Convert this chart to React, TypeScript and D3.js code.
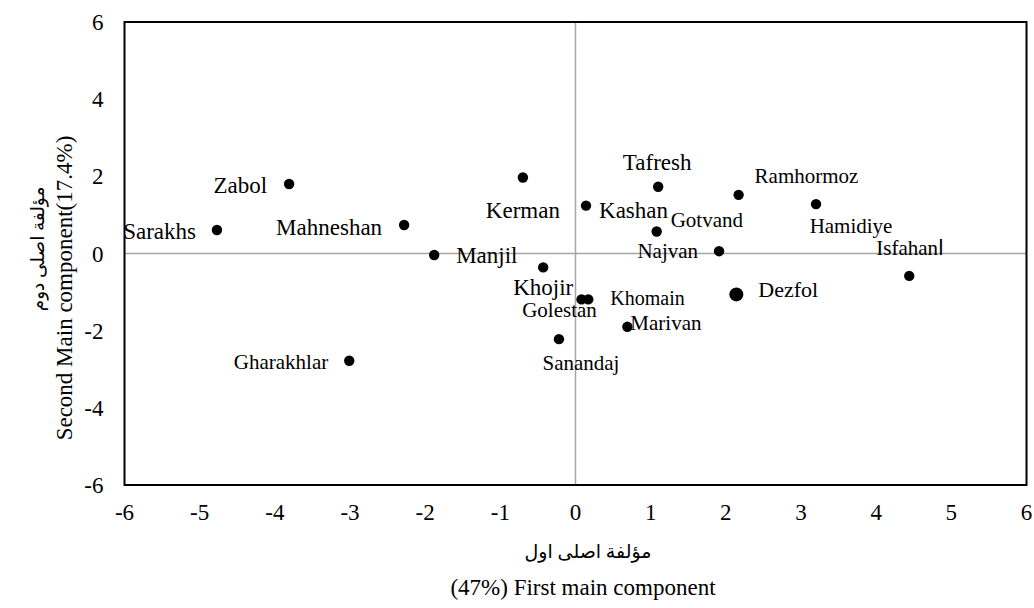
import React, { useEffect, useRef } from "react";
import * as d3 from "d3";

// PCA scores
const cities = [
  "Sarakhs", "Zabol", "Mahneshan", "Manjil", "Gharakhlar", "Kerman", "Khojir",
  "Kashan", "Golestan", "Khomain", "Sanandaj", "Marivan", "Tafresh", "Gotvand",
  "Najvan", "Ramhormoz", "Hamidiye", "Isfahanا", "Dezfol",
];
const pc1 = [-4.77, -3.81, -2.28, -1.88, -3.01, -0.7, -0.43, 0.14, 0.08, 0.17, -0.22, 0.69, 1.1, 1.08, 1.91, 2.17, 3.2, 4.44, 2.14];
const pc2 = [0.61, 1.8, 0.74, -0.04, -2.78, 1.97, -0.36, 1.24, -1.19, -1.19, -2.22, -1.9, 1.73, 0.57, 0.06, 1.52, 1.28, -0.58, -1.06];

const xTicks = [-6, -5, -4, -3, -2, -1, 0, 1, 2, 3, 4, 5, 6];
const yTicks = [-6, -4, -2, 0, 2, 4, 6];

// label placement: [dx, dy, anchor, font size]
const labelStyle: Record<string, [number, number, string, number]> = {
  Sarakhs: [-21, 9, "end", 23],
  Zabol: [-22, 9, "end", 23],
  Mahneshan: [-22, 10, "end", 23],
  Manjil: [22, 8, "start", 23],
  Gharakhlar: [-21, 8, "end", 21],
  Kerman: [0, 41, "middle", 23],
  Khojir: [0, 28, "middle", 23],
  Kashan: [13, 12, "start", 23],
  Golestan: [-22, 18, "middle", 21],
  Khomain: [22, 6, "start", 20],
  Sanandaj: [22, 31, "middle", 21],
  Marivan: [3, 3, "start", 21],
  Tafresh: [-1, -17, "middle", 23],
  Gotvand: [14, -5, "start", 21],
  Najvan: [-21, 7, "end", 21],
  Ramhormoz: [16, -12, "start", 21],
  "Isfahanا": [-33, -21, "start", 21],
  Hamidiye: [35, 29, "middle", 21],
  Dezfol: [22, 3, "start", 22],
};

const W = 1034, H = 608;
const margin = { top: 22, right: 7.5, bottom: 123, left: 124.5 };
const font = "'Liberation Serif', 'Times New Roman', 'DejaVu Sans', serif";

export default function App() {
  const ref = useRef<SVGSVGElement>(null);

  useEffect(() => {
    const svg = d3.select(ref.current);
    svg.selectAll("*").remove();

    const x = d3.scaleLinear().domain([-6, 6]).range([margin.left, W - margin.right]);
    const y = d3.scaleLinear().domain([-6, 6]).range([H - margin.bottom, margin.top]);

    // zero lines
    svg.append("line")
      .attr("x1", x(0)).attr("x2", x(0))
      .attr("y1", y(6)).attr("y2", y(-6))
      .attr("stroke", "#a6a6a6").attr("stroke-width", 1.5);
    svg.append("line")
      .attr("x1", x(-6)).attr("x2", x(6))
      .attr("y1", y(0)).attr("y2", y(0))
      .attr("stroke", "#a6a6a6").attr("stroke-width", 1.5);

    // frame
    svg.append("rect")
      .attr("x", x(-6)).attr("y", y(6))
      .attr("width", x(6) - x(-6)).attr("height", y(-6) - y(6))
      .attr("fill", "none").attr("stroke", "#000").attr("stroke-width", 2);

    // tick labels
    svg.append("g").selectAll("text").data(xTicks).join("text")
      .attr("x", d => x(d)).attr("y", y(-6) + 35)
      .attr("text-anchor", "middle")
      .attr("font-family", font).attr("font-size", 23)
      .text(d => String(d));
    svg.append("g").selectAll("text").data(yTicks).join("text")
      .attr("x", x(-6) - 21).attr("y", d => y(d) + 8)
      .attr("text-anchor", "end")
      .attr("font-family", font).attr("font-size", 23)
      .text(d => String(d));

    const pts = cities.map((c, i) => ({ name: c, a: pc1[i], b: pc2[i] }));

    svg.append("g").selectAll("circle").data(pts).join("circle")
      .attr("cx", d => x(d.a)).attr("cy", d => y(d.b))
      .attr("r", d => (d.name === "Dezfol" ? 7 : 5.2))
      .attr("fill", "#000");

    svg.append("g").selectAll("text").data(pts).join("text")
      .attr("x", d => x(d.a) + labelStyle[d.name][0])
      .attr("y", d => y(d.b) + labelStyle[d.name][1])
      .attr("text-anchor", d => labelStyle[d.name][2])
      .attr("font-family", font)
      .attr("font-size", d => labelStyle[d.name][3])
      .text(d => d.name);

    // axis titles
    svg.append("text")
      .attr("x", 588).attr("y", 558)
      .attr("text-anchor", "middle")
      .attr("font-family", font).attr("font-size", 19)
      .text("مؤلفة اصلی اول");
    svg.append("text")
      .attr("x", 583).attr("y", 595)
      .attr("text-anchor", "middle")
      .attr("font-family", font).attr("font-size", 23)
      .text("(47%) First main component");

    svg.append("text")
      .attr("transform", "translate(72,288) rotate(-90)")
      .attr("text-anchor", "middle")
      .attr("font-family", font).attr("font-size", 23)
      .text("Second Main component(17.4%)");
    svg.append("text")
      .attr("transform", "translate(44,249) rotate(-90)")
      .attr("text-anchor", "middle")
      .attr("font-family", font).attr("font-size", 18.5)
      .text("مؤلفة اصلی دوم");
  }, []);

  return (
    <svg ref={ref} width={W} height={H}
      style={{ position: "absolute", left: 0, top: 0, background: "#fff" }} />
  );
}
